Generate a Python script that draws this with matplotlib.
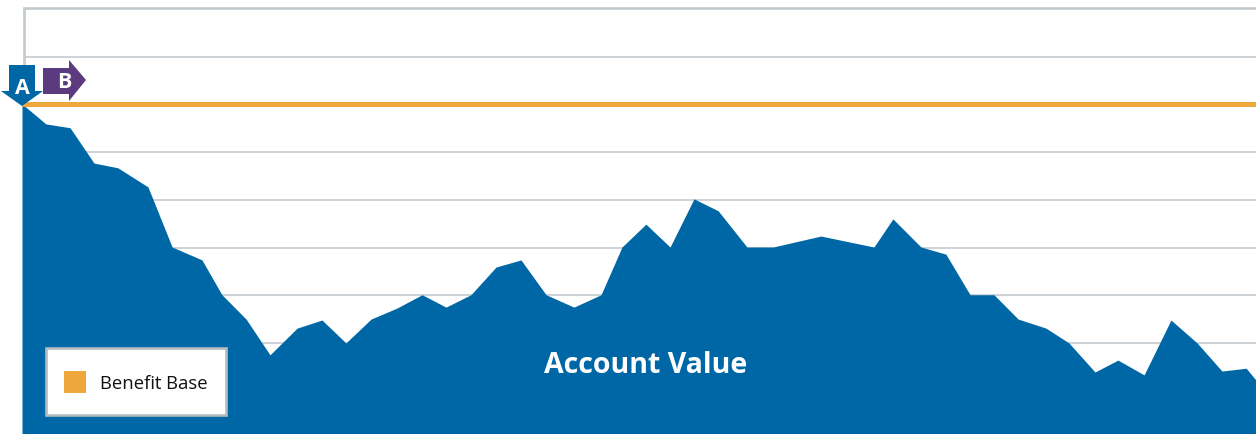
import matplotlib
matplotlib.use("Agg")
import matplotlib.pyplot as plt
from matplotlib.patches import Polygon, Patch, Rectangle
from matplotlib.transforms import Affine2D

plt.rcParams['font.family'] = ['Open Sans', 'DejaVu Sans']

periods = [0, .97, 1.95, 2.92, 3.89, 5.11, 6.09, 7.30, 8.11, 9.09, 10.06, 11.16, 12.17, 13.14, 14.16,
           15.21, 16.23, 17.20, 18.21, 19.23, 20.24, 21.26, 22.39, 23.49, 24.34, 25.31, 26.29, 27.26,
           28.24, 29.41, 30.47, 32.41, 34.56, 35.33, 36.47, 37.48, 38.46, 39.43, 40.41, 41.54, 42.47,
           43.53, 44.46, 45.52, 46.61, 47.67, 48.68, 49.66, 50.06]
account_value = [6.94, 6.52, 6.44, 5.70, 5.60, 5.20, 3.94, 3.67, 2.94, 2.43, 1.68, 2.24, 2.41, 1.93, 2.43,
                 2.66, 2.94, 2.68, 2.94, 3.52, 3.67, 2.94, 2.68, 2.94, 3.94, 4.42, 3.94, 4.95,
                 4.70, 3.94, 3.94, 4.17, 3.94, 4.53, 3.94, 3.79, 2.94, 2.94, 2.43, 2.24, 1.93,
                 1.32, 1.57, 1.26, 2.41, 1.93, 1.34, 1.40, 1.15]
benefit_base = 6.94
grid_levels = [0.93, 1.93, 2.93, 3.93, 4.93, 5.93, 6.93, 7.93]
series_label = "Account Value"
legend_label = "Benefit Base"

BLUE, ORANGE, PURPLE, GREY = "#0067a6", "#eea73c", "#5b3a7f", "#c3cbcf"
W, H = 1256, 435

fig = plt.figure(figsize=(W / 100, H / 100), dpi=100, facecolor="white")
ax = fig.add_axes([22 / W, -1 / H, 1 - 22 / W, 1 - 8 / H])
ax.set_xlim(0, 50.06)
ax.set_ylim(0, 8.95)
ax.set_xticks([]); ax.set_yticks([])
ax.set_frame_on(False)

# Plot frame (top and left only) and gridlines stay clear of the area's left edge
ax.hlines(8.95, 0.04, 50.06, color=GREY, lw=1.9, zorder=1, clip_on=False)
ax.vlines(0.08, 0, 8.97, color=GREY, lw=1.9, zorder=1, clip_on=False)
ax.hlines(grid_levels, 0.08, 50.06, color=GREY, lw=1.2, zorder=1)

ax.fill_between(periods, account_value, 0, color=BLUE, lw=0, zorder=2)
ax.plot([periods[0], periods[-1]], [benefit_base, benefit_base], color=ORANGE, lw=3.6,
        solid_capstyle="butt", zorder=3)

ax.text(25.3, 1.48, series_label, color="white", fontsize=20.5, fontweight="bold",
        ha="center", va="center", zorder=4)

# Pixel-space marker callouts (y measured from the top of the image)
px = Affine2D().scale(1, -1).translate(0, H)
fig.add_artist(Polygon([(9, 66), (35, 66), (35, 92), (43, 92), (22, 107), (1, 92), (9, 92)],
                       closed=True, fc=BLUE, ec="none", transform=px, zorder=5))
fig.add_artist(Polygon([(43, 69), (69, 69), (69, 61), (86, 81), (69, 102), (69, 95), (43, 95)],
                       closed=True, fc=PURPLE, ec="none", transform=px, zorder=5))
fig.text(22 / W, 1 - 88 / H, "A", color="white", fontsize=15.5, fontweight="bold",
         ha="center", va="center", zorder=6)
fig.text(64 / W, 1 - 82.5 / H, "B", color="white", fontsize=15.5, fontweight="bold",
         ha="center", va="center", zorder=6)

# Legend: fixed-size frame with the real legend inside
ax.add_patch(Rectangle((46, 349), 180, 67, fc="white", ec="#b4bcc0", lw=1.9, transform=px,
                       clip_on=False, zorder=3.5))
handle = Patch(fc=ORANGE, ec="none")
leg = ax.legend([handle], [legend_label], loc="center left",
                bbox_to_anchor=(45 / W, (H - 383) / H, 182 / W, 0), bbox_transform=fig.transFigure,
                borderaxespad=0, frameon=False, fontsize=13.3, labelcolor="#111111",
                handlelength=1.19, handleheight=1.45, handletextpad=0.76, borderpad=1.05)
leg.set_zorder(4)

fig.savefig("out.png", dpi=100, facecolor="white")
